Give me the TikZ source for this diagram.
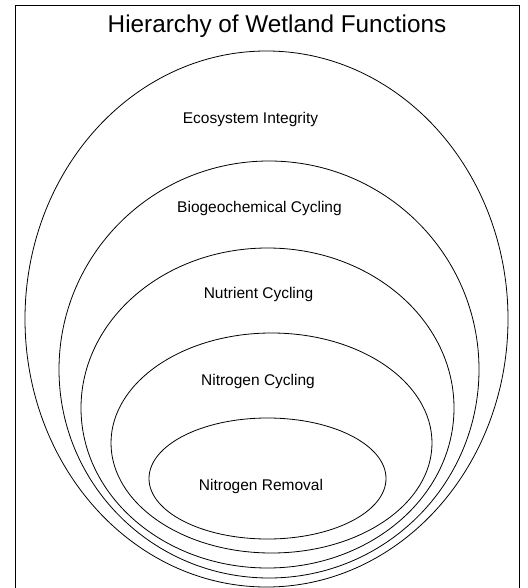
\documentclass[tikz,border=0pt]{standalone}
\usepackage{fontspec}
\setmainfont{Liberation Sans}
\usetikzlibrary{shapes.geometric}

\begin{document}
\begin{tikzpicture}[x=1pt, y=-1pt,
		ring/.style = {shape=ellipse, draw, line width=0.8pt, inner sep=0pt},
		every node/.style = {font=\fontsize{15.5}{18}\selectfont, anchor=base}]
		
		\useasboundingbox (0,0) rectangle (527,588);
		% frame, open at the bottom
		\draw[line width=0.9pt] (15,588) -- (15,5) -- (519,5) -- (519,588);
		\node[font=\fontsize{24.3}{28}\selectfont] (title) at (277,33) {Hierarchy of Wetland Functions};
		
		% nested rings, outermost first
		\node[ring, anchor=center, minimum width=483pt, minimum height=536pt] (ecosystem) at (266.5,319) {};
		\node[ring, anchor=center, minimum width=420pt, minimum height=417pt] (biogeo) at (269,369.5) {};
		\node[ring, anchor=center, minimum width=373pt, minimum height=320pt] (nutrient) at (267.5,408) {};
		\node[ring, anchor=center, minimum width=321pt, minimum height=220pt] (nitrocycle) at (271.5,443) {};
		\node[ring, anchor=center, minimum width=237pt, minimum height=121pt] (removal) at (267.5,478.5) {};
		
		% labels
		\node (ecosystem label) at (250.5,124) {Ecosystem Integrity};
		\node (biogeo label) at (259.5,212) {Biogeochemical Cycling};
		\node (nutrient label) at (258.5,298) {Nutrient Cycling};
		\node (nitrocycle label) at (258,385) {Nitrogen Cycling};
		\node (removal label) at (261,490) {Nitrogen Removal};
		\end{tikzpicture}
\end{document}
